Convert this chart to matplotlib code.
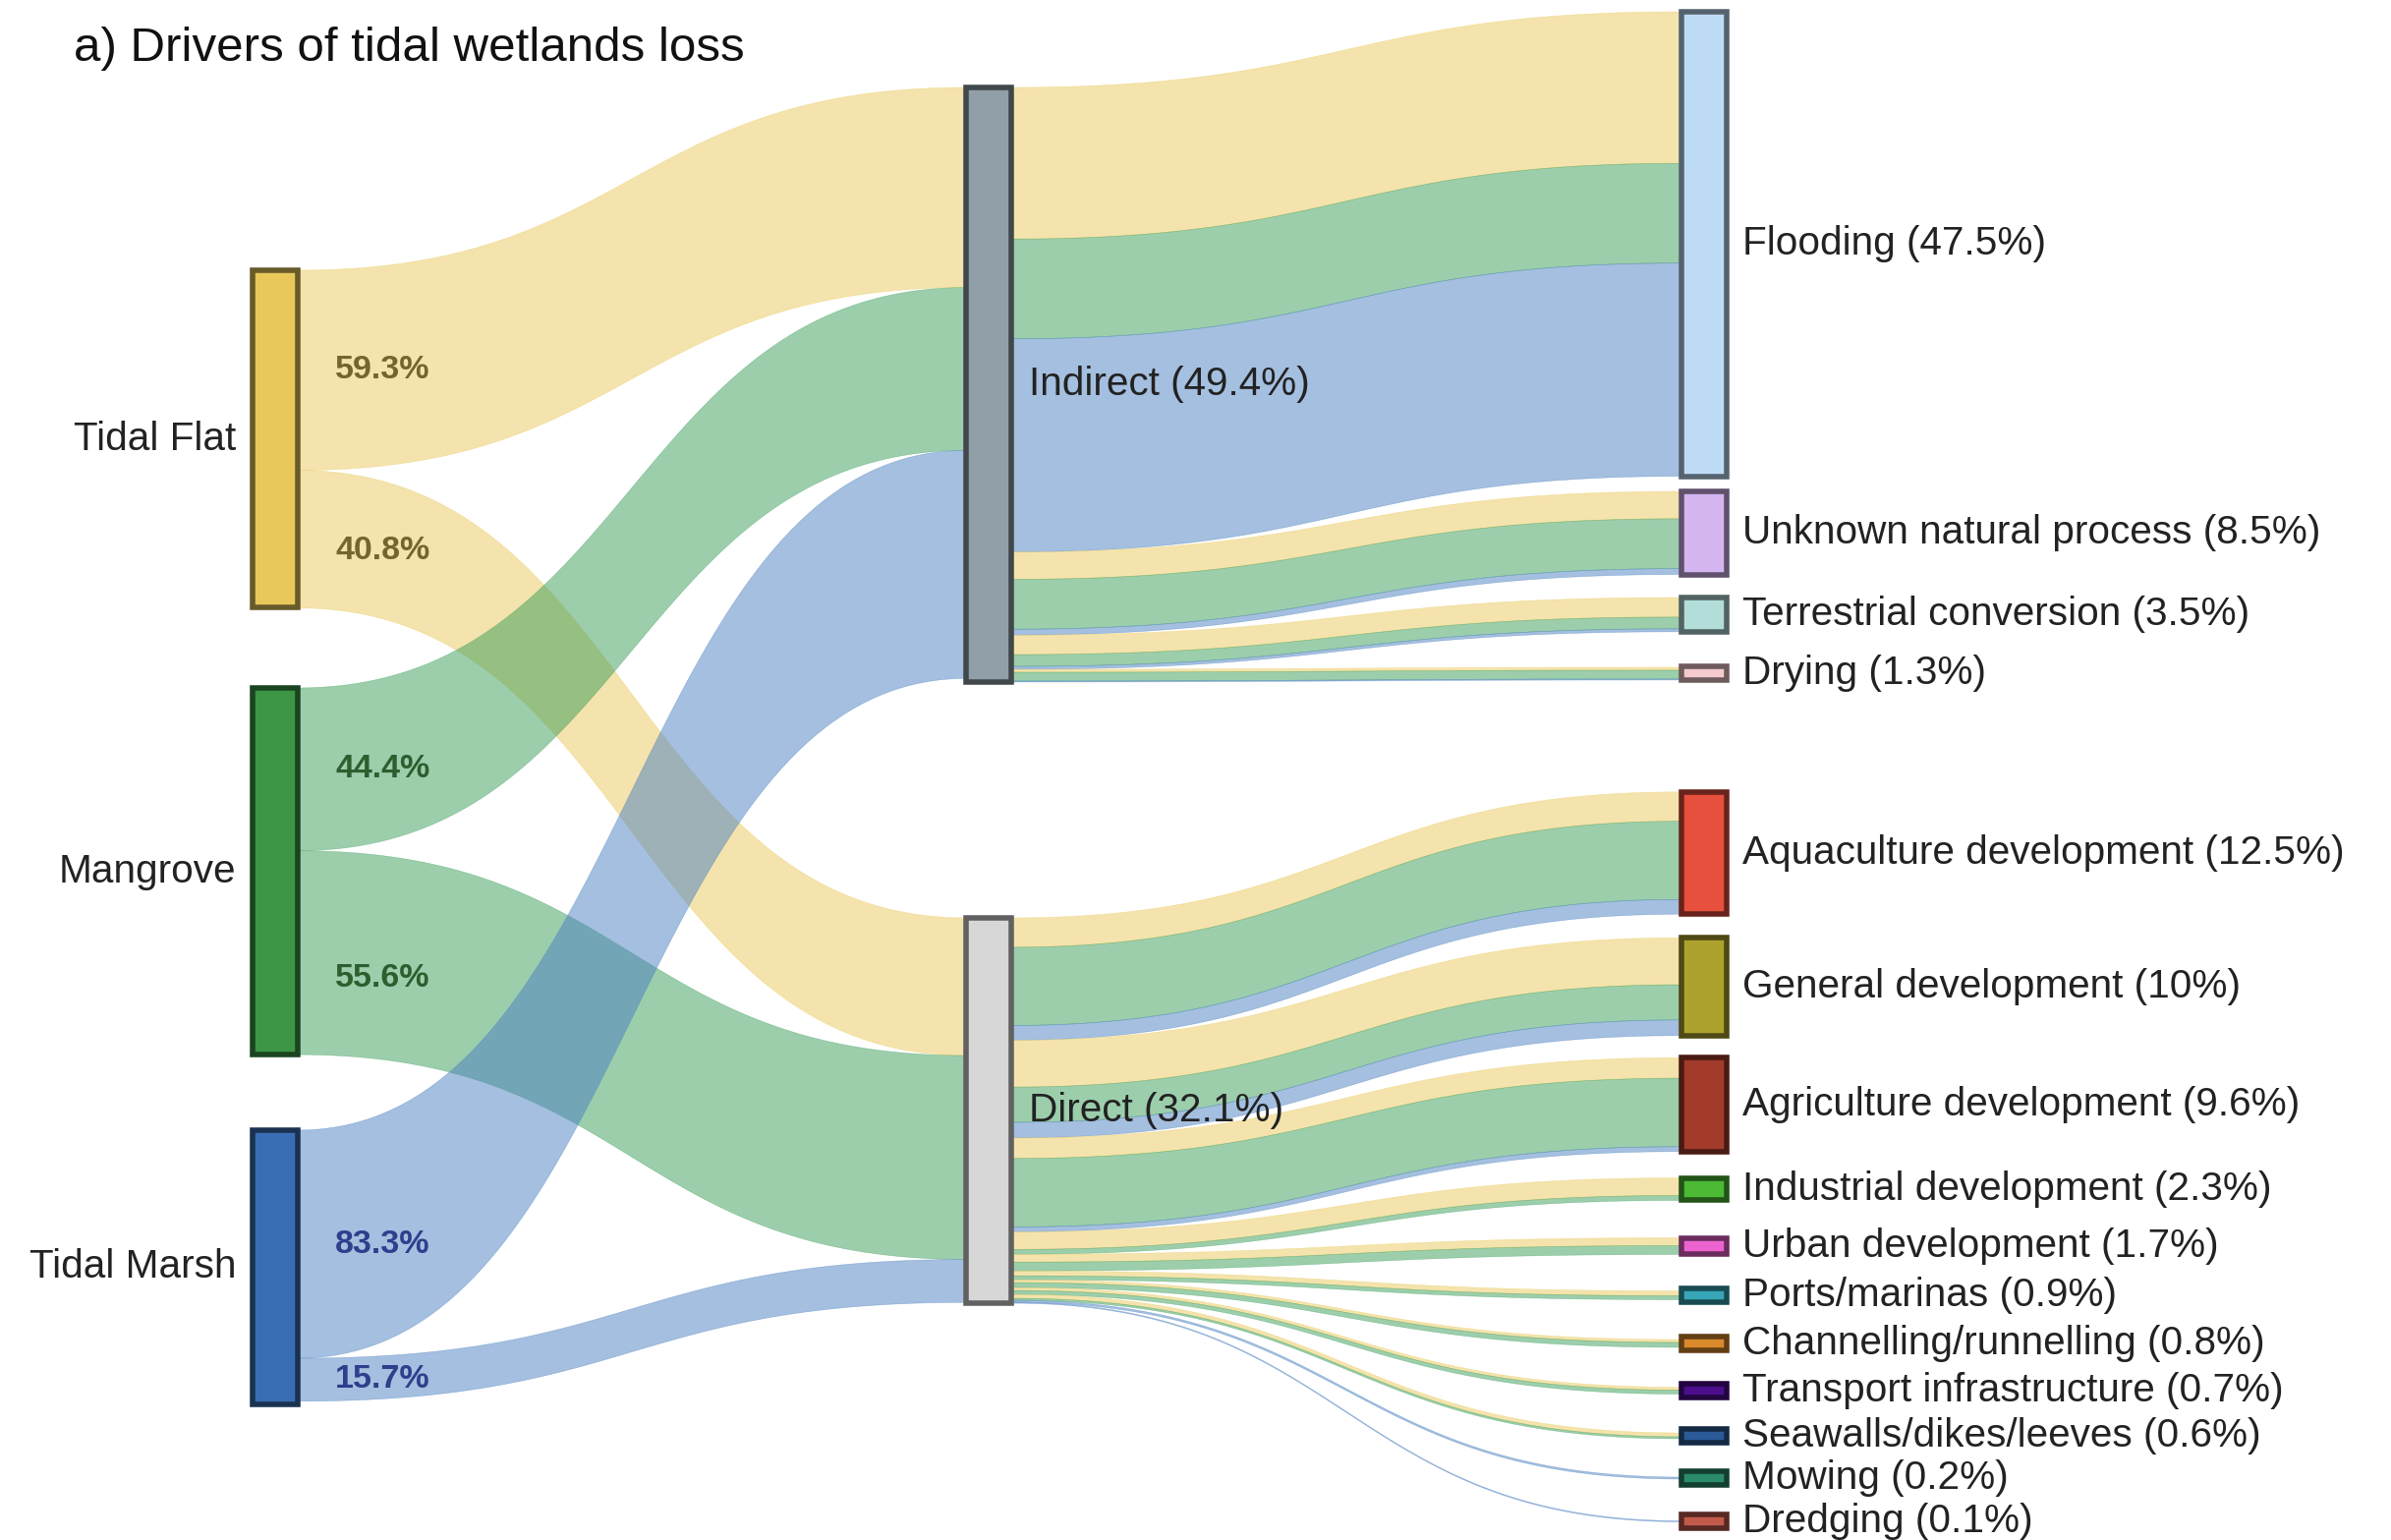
import numpy as np
import matplotlib.pyplot as plt
from matplotlib.patches import Polygon, Rectangle
from matplotlib.colors import to_rgb

plt.rcParams['font.family'] = ['Liberation Sans', 'DejaVu Sans']

# wetland types (share of total loss, %) and how each splits between pathways
land_types = ['Tidal Flat', 'Mangrove', 'Tidal Marsh']
land_share = [34.5, 37.5, 28.0]
to_indirect_pct = [59.3, 44.4, 83.3]
to_direct_pct = [40.8, 55.6, 15.7]

pathway_labels = ['Indirect (49.4%)', 'Direct (32.1%)']

indirect_drivers = ['Flooding', 'Unknown natural process', 'Terrestrial conversion', 'Drying']
indirect_pct = [47.5, 8.5, 3.5, 1.3]
# contribution of tidal flat / mangrove / tidal marsh to each driver
indirect_by_type = [
    [15.5, 10.2, 21.8],
    [2.8, 5.1, 0.6],
    [2.0, 1.2, 0.3],
    [0.3, 0.9, 0.1],
]

direct_drivers = ['Aquaculture development', 'General development', 'Agriculture development',
                  'Industrial development', 'Urban development', 'Ports/marinas',
                  'Channelling/runnelling', 'Transport infrastructure', 'Seawalls/dikes/leeves',
                  'Mowing', 'Dredging']
direct_pct = [12.5, 10, 9.6, 2.3, 1.7, 0.9, 0.8, 0.7, 0.6, 0.2, 0.1]
direct_by_type = [
    [3.0, 8.0, 1.5],
    [4.8, 3.6, 1.6],
    [2.1, 7.0, 0.5],
    [1.8, 0.5, 0.0],
    [0.8, 0.9, 0.0],
    [0.5, 0.4, 0.0],
    [0.3, 0.5, 0.0],
    [0.3, 0.4, 0.0],
    [0.4, 0.2, 0.0],
    [0.0, 0.0, 0.2],
    [0.0, 0.0, 0.1],
]

# ---- styling / layout (pixel units) ----
W, H = 2433, 1567
PX = 9.95          # pixels per % of loss
NODE_W = 46
MIN_NODE_H = 14
COL_X = [257, 983, 1711]
LABEL_SIZE = 29.2

left_tops = [275, 700, 1150]
mid_tops = [89, 934]
indirect_tops = [12, 500, 608, 679]
direct_centres = [868, 1004, 1124, 1210, 1268, 1318, 1367, 1415, 1461, 1504, 1548]
# vertical nudges for the split labels on the left links
pct_nudge = [0, 12, 0, 26, 0, 0]

link_colors = ['#EAC95A', '#3A9E5A', '#4A80C0']
pct_colors = ['#75652c', '#2e5e2e', '#2e3f8c']
left_colors = ['#E8C85A', '#3C9646', '#3A6EB4']
mid_colors = ['#919FA8', '#D7D7D7']
indirect_colors = ['#BFDCF7', '#D5B5F0', '#B3DDD9', '#F4CACE']
direct_colors = ['#E8503E', '#ADA22E', '#A33B2B', '#4CB935', '#EC63CF', '#37A6B8',
                 '#D98A2C', '#4B0E8C', '#2A5B97', '#2B8B6B', '#C25A4C']


def darker(c, f=0.45):
    r, g, b = to_rgb(c)
    return (r * f, g * f, b * f)


def draw_link(ax, x0, x1, y0a, y0b, y1a, y1b, color):
    t = np.linspace(0, 1, 80)
    xm = (x0 + x1) / 2
    bx = (1 - t) ** 3 * x0 + 3 * (1 - t) ** 2 * t * xm + 3 * (1 - t) * t ** 2 * xm + t ** 3 * x1
    s = 3 * t ** 2 - 2 * t ** 3
    top = y0a + (y1a - y0a) * s
    bot = y0b + (y1b - y0b) * s
    pts = np.vstack([np.column_stack([bx, top]), np.column_stack([bx[::-1], bot[::-1]])])
    ax.add_patch(Polygon(pts, closed=True, facecolor=color, edgecolor=color,
                         lw=0.4, alpha=0.5, zorder=1))


def draw_node(ax, x, top, h, color):
    if h < MIN_NODE_H:
        top = top + h / 2 - MIN_NODE_H / 2
        h = MIN_NODE_H
    ax.add_patch(Rectangle((x, top), NODE_W, h, facecolor=color,
                           edgecolor=darker(color), lw=4, zorder=3))


fig = plt.figure(figsize=(W / 100, H / 100), dpi=100)
ax = fig.add_axes([0, 0, 1, 1])
ax.set_xlim(0, W)
ax.set_ylim(H, 0)
ax.axis('off')

# left column -> pathways
mid_in = [mid_tops[0], mid_tops[1]]
left_heights = [v * PX for v in land_share]
pct_label_pos = []
for i in range(3):
    y = left_tops[i]
    for j, pct in enumerate([to_indirect_pct[i], to_direct_pct[i]]):
        h = land_share[i] * pct / 100 * PX
        draw_link(ax, COL_X[0] + NODE_W, COL_X[1], y, y + h, mid_in[j], mid_in[j] + h,
                  link_colors[i])
        pct_label_pos.append((y + h / 2, '%.1f%%' % pct, pct_colors[i]))
        mid_in[j] += h
        y += h

# pathways -> drivers
indirect_h = [v * PX for v in indirect_pct]
direct_h = [v * PX for v in direct_pct]
direct_tops = [c - h / 2 for c, h in zip(direct_centres, direct_h)]

groups = [(indirect_by_type, indirect_tops), (direct_by_type, direct_tops)]
mid_out_total = []
for m, (split, tops) in enumerate(groups):
    y = mid_tops[m]
    for d, parts in enumerate(split):
        ty = tops[d]
        for k, v in enumerate(parts):
            if v <= 0:
                continue
            h = v * PX
            draw_link(ax, COL_X[1] + NODE_W, COL_X[2], y, y + h, ty, ty + h, link_colors[k])
            y += h
            ty += h
    mid_out_total.append(y - mid_tops[m])

# nodes
for i in range(3):
    draw_node(ax, COL_X[0], left_tops[i], left_heights[i], left_colors[i])
for m in range(2):
    h = max(mid_in[m] - mid_tops[m], mid_out_total[m])
    draw_node(ax, COL_X[1], mid_tops[m], h, mid_colors[m])
    ax.text(COL_X[1] + NODE_W + 18, mid_tops[m] + h / 2, pathway_labels[m],
            fontsize=LABEL_SIZE, color='#222222', va='center', ha='left', zorder=5)
for d in range(len(indirect_drivers)):
    draw_node(ax, COL_X[2], indirect_tops[d], indirect_h[d], indirect_colors[d])
    ax.text(COL_X[2] + NODE_W + 16, indirect_tops[d] + indirect_h[d] / 2,
            '%s (%g%%)' % (indirect_drivers[d], indirect_pct[d]),
            fontsize=LABEL_SIZE, color='#222222', va='center', ha='left', zorder=5)
for d in range(len(direct_drivers)):
    draw_node(ax, COL_X[2], direct_tops[d], direct_h[d], direct_colors[d])
    ax.text(COL_X[2] + NODE_W + 16, direct_tops[d] + direct_h[d] / 2,
            '%s (%g%%)' % (direct_drivers[d], direct_pct[d]),
            fontsize=LABEL_SIZE, color='#222222', va='center', ha='left', zorder=5)

# left labels
for i in range(3):
    ax.text(COL_X[0] - 17, left_tops[i] + left_heights[i] / 2, land_types[i],
            fontsize=LABEL_SIZE, color='#222222', va='center', ha='right', zorder=5)
for n, (y, txt, col) in enumerate(pct_label_pos):
    ax.text(341, y + pct_nudge[n], txt, fontsize=24.5, fontweight='bold', color=col,
            va='center', ha='left', zorder=5)

ax.text(75, 50, 'a) Drivers of tidal wetlands loss', fontsize=35.5, color='#111111',
        va='center', ha='left')

fig.savefig('out.png', dpi=100)
